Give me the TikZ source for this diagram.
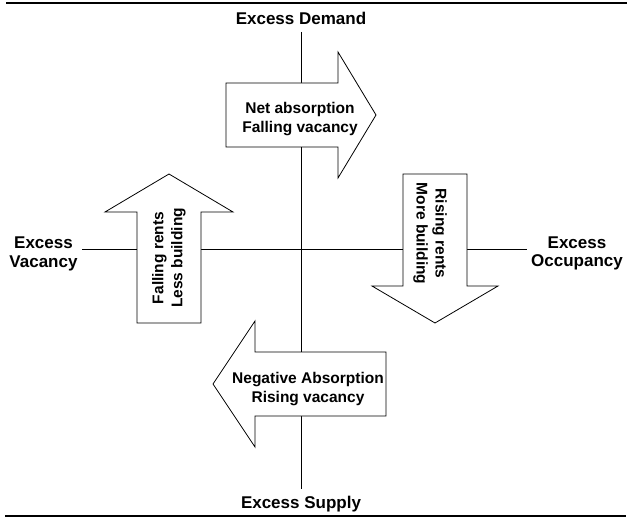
\documentclass[tikz,border=0pt]{standalone}
\usepackage{fontspec}
\setmainfont{Liberation Sans}
\usetikzlibrary{positioning}

\begin{document}
\begin{tikzpicture}[x=1pt, y=-1pt,
    axislabel/.style={font=\fontsize{17}{18.5}\selectfont\bfseries, align=center, inner sep=0pt, anchor=north},
    arrowtext/.style={font=\fontsize{15.5}{19}\selectfont\bfseries, align=center, inner sep=0pt, anchor=north},
    bigarrow/.style={draw, fill=white, line width=0.8pt, line join=miter},
    axis/.style={line width=0.8pt},
    rule/.style={line width=2.5pt}
]
    \useasboundingbox (0,0) rectangle (629,521);

    % Rules top and bottom
    \draw[rule] (6,3) -- (627,3);
    \draw[rule] (5,516) -- (626,516);

    % Axis labels
    \node[axislabel] (demand) at (301,11.5) {Excess Demand};
    \node[axislabel] (supply) at (301,495.5) {Excess Supply};
    \node[axislabel] (vacancy) at (43.5,237) {Excess\\Vacancy};
    \node[axislabel] (occupancy) at (577,236.5) {Excess\\Occupancy};

    % Axes
    \coordinate (vtop) at (301,32);
    \coordinate (vbot) at (301,489);
    \coordinate (hleft) at (82,249);
    \coordinate (hright) at (527,249);
    \draw[axis] (vtop) -- (vbot);
    \draw[axis] (hleft) -- (hright);

    % Block arrows
    \draw[bigarrow] (226,83) -- (338,83) -- (338,52) -- (376,115) -- (338,178) -- (338,147) -- (226,147) -- cycle;
    \draw[bigarrow] (137,323) -- (137,212) -- (105,212) -- (169,174) -- (233,212) -- (201,212) -- (201,323) -- cycle;
    \draw[bigarrow] (403,174) -- (467,174) -- (467,286) -- (498,286) -- (435,323) -- (372,286) -- (403,286) -- cycle;
    \draw[bigarrow] (386,352) -- (255,352) -- (255,321) -- (213,384) -- (255,447) -- (255,416) -- (386,416) -- cycle;

    % Arrow texts
    \node[arrowtext] (absorb) at (300,102.5) {Net absorption\\Falling vacancy};
    \node[arrowtext, rotate=90] (falling) at (152,258) {Falling rents\\Less building};
    \node[arrowtext, rotate=-90] (rising) at (447,233.5) {Rising rents\\More building};
    \node[arrowtext] (negative) at (308,372) {Negative Absorption\\Rising vacancy};
\end{tikzpicture}
\end{document}
